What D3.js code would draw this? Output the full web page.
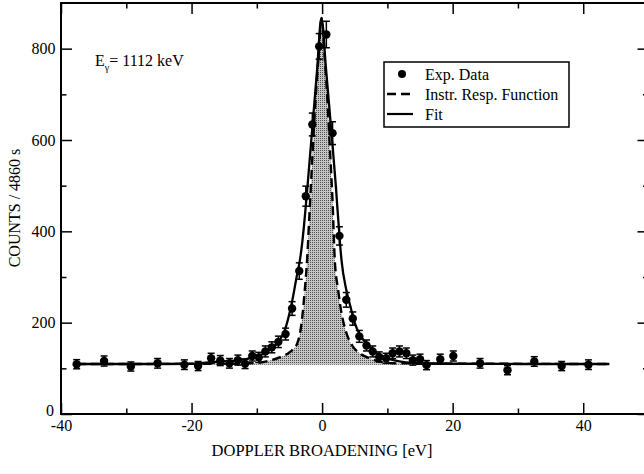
<!DOCTYPE html>
<html>
<head>
<meta charset="utf-8">
<script src="https://cdn.jsdelivr.net/npm/d3@7"></script>
<style>
  html, body { margin: 0; padding: 0; background: #fff; }
  svg { display: block; }
  text { font-family: "Liberation Serif", "Times New Roman", serif; fill: #000; }
</style>
</head>
<body>
<svg id="chart" width="644" height="474"></svg>
<script>
// ---- Data ----
const expX = [-37.6, -33.4, -29.3, -25.2, -21.1, -19.0, -17.0, -15.6, -14.2, -12.9, -11.8, -10.7, -9.7, -8.7, -7.7, -6.7, -5.6, -4.6, -3.5, -2.5, -1.5, -0.45, 0.65, 1.6, 2.65, 3.7, 4.7, 5.7, 6.8, 7.75, 8.75, 9.8, 10.8, 11.85, 12.9, 13.9, 15.0, 16.0, 18.1, 20.1, 24.2, 28.4, 32.5, 36.7, 40.8];
const expY = [109, 116, 104, 111, 108, 105, 122, 117, 111, 118, 110, 127, 124, 137, 146, 158, 175, 231, 313, 477, 634, 805, 831, 615, 390, 250, 209, 170, 150, 137, 125, 122, 133, 137, 133, 118, 120, 107, 120, 127, 111, 96, 115, 105, 108];
const expErr = [10, 11, 10, 10.5, 10.5, 10, 11, 11, 10.5, 11, 10.5, 11, 11, 12, 12, 12.5, 13, 15, 18, 22, 25, 28, 29, 25, 20, 16, 14.5, 13, 12, 12, 11, 11, 11.5, 12, 11.5, 11, 11, 10, 11, 11, 10.5, 10, 10.5, 10, 10.5];

const fitX = [-37.6, -25, -20, -15.7, -13.1, -10.6, -8.5, -6.7, -5.7, -4.7, -3.8, -3.4, -3.0, -2.2, -1.47, -0.8, -0.1, 0.6, 1.5, 2.1, 2.7, 2.97, 3.7, 4.35, 5.0, 6.0, 7.3, 8.8, 10.9, 15, 20, 30, 44];
const fitY = [109.5, 109.5, 110, 115, 117, 124, 136, 158, 184, 239, 308, 337, 381, 505, 632, 748, 867, 755, 605, 500, 381, 337, 272, 235, 199, 169, 147, 129, 118, 111, 110, 109.5, 109.5];

const irfX = [-37.6, -14, -10, -8, -6.2, -4.9, -3.8, -3.15, -2.65, -2.3, -2.0, -1.5, -1.0, -0.5, -0.1, 0.4, 0.8, 1.2, 1.6, 1.94, 2.45, 2.97, 3.73, 4.75, 5.77, 7.3, 8.8, 11, 44];
const irfY = [109.5, 110, 112, 117, 126, 136, 155, 199, 272, 337, 420, 560, 690, 790, 867, 780, 690, 580, 465, 337, 272, 221, 177, 147, 133, 122, 115, 111, 109.5];

const xMajorTicks = [-40, -20, 0, 20, 40];
const xMinorTicks = [-30, -10, 10, 30];
const yMajorTicks = [0, 200, 400, 600, 800];
const yMinorTicks = [100, 300, 500, 700];

const legendLabels = ["Exp. Data", "Instr. Resp. Function", "Fit"];

// ---- Layout ----
const svg = d3.select("#chart");
const L = 61, R = 648.5, T = 3, B = 414;
const x = d3.scaleLinear().domain([-40, 50]).range([L, R]);
const y = d3.scaleLinear().domain([0, 900]).range([B, T]);
const plainFmt = d => String(d);

svg.append("rect").attr("width", 644).attr("height", 474).attr("fill", "#fff");

// stipple pattern for the instrument response fill
const defs = svg.append("defs");
const pat = defs.append("pattern").attr("id", "stip").attr("patternUnits", "userSpaceOnUse")
  .attr("width", 2).attr("height", 2);
pat.append("rect").attr("width", 2).attr("height", 2).attr("fill", "#c6c6c6");
pat.append("rect").attr("width", 1).attr("height", 1).attr("fill", "#4e4e4e");

const irf = irfX.map((v, i) => [v, irfY[i]]);
const fit = fitX.map((v, i) => [v, fitY[i]]);

// filled area under IRF
svg.append("path")
  .attr("d", d3.area().x(d => x(d[0])).y0(y(108)).y1(d => y(d[1])).curve(d3.curveMonotoneX)(irf))
  .attr("fill", "url(#stip)");

// IRF dashed
svg.append("path")
  .attr("d", d3.line().x(d => x(d[0])).y(d => y(d[1])).curve(d3.curveMonotoneX)(irf))
  .attr("fill", "none").attr("stroke", "#000").attr("stroke-width", 2.4)
  .attr("stroke-dasharray", "9,5");

// Fit solid
svg.append("path")
  .attr("d", d3.line().x(d => x(d[0])).y(d => y(d[1])).curve(d3.curveMonotoneX)(fit))
  .attr("fill", "none").attr("stroke", "#000").attr("stroke-width", 2.3);

// Data with error bars
const pts = svg.append("g");
expX.forEach((xv, i) => {
  const cx = x(xv), y1 = y(expY[i] - expErr[i]), y2 = y(expY[i] + expErr[i]);
  pts.append("line").attr("x1", cx).attr("x2", cx).attr("y1", y1).attr("y2", y2)
    .attr("stroke", "#000").attr("stroke-width", 1.5);
  [y1, y2].forEach(yy => pts.append("line").attr("x1", cx - 3.5).attr("x2", cx + 3.5)
    .attr("y1", yy).attr("y2", yy).attr("stroke", "#000").attr("stroke-width", 1.5));
  pts.append("circle").attr("cx", cx).attr("cy", y(expY[i])).attr("r", 4.2).attr("fill", "#000");
});

// ---- Axes ----
function styleAxis(g, labels) {
  g.select(".domain").remove();
  g.selectAll(".tick line").attr("stroke", "#000").attr("stroke-width", 1.5);
  g.selectAll(".tick text").style("font-family", '"Liberation Serif", serif').style("font-size", "16px").attr("fill", "#000");
  if (!labels) g.selectAll(".tick text").remove();
}
svg.append("g").attr("transform", `translate(0,${B})`)
  .call(d3.axisBottom(x).tickValues(xMajorTicks).tickSize(-11).tickPadding(5.5).tickFormat(plainFmt))
  .call(g => styleAxis(g, true));
svg.append("g").attr("transform", `translate(0,${B})`)
  .call(d3.axisBottom(x).tickValues(xMinorTicks).tickSize(-5.5))
  .call(g => styleAxis(g, false));
svg.append("g").attr("transform", `translate(0,${T})`)
  .call(d3.axisTop(x).tickValues(xMajorTicks).tickSize(-11))
  .call(g => styleAxis(g, false));
svg.append("g").attr("transform", `translate(0,${T})`)
  .call(d3.axisTop(x).tickValues(xMinorTicks).tickSize(-5.5))
  .call(g => styleAxis(g, false));
svg.append("g").attr("transform", `translate(${L},0)`)
  .call(d3.axisLeft(y).tickValues(yMajorTicks).tickSize(-11).tickPadding(5.5).tickFormat(plainFmt))
  .call(g => styleAxis(g, true))
  .call(g => g.selectAll(".tick text").filter(d => d === 0).attr("dy", "0.1em").attr("x", -7));
svg.append("g").attr("transform", `translate(${L},0)`)
  .call(d3.axisLeft(y).tickValues(yMinorTicks).tickSize(-5.5))
  .call(g => styleAxis(g, false));
svg.append("g").attr("transform", `translate(${R},0)`)
  .call(d3.axisRight(y).tickValues(yMajorTicks).tickSize(-11))
  .call(g => styleAxis(g, false));
svg.append("g").attr("transform", `translate(${R},0)`)
  .call(d3.axisRight(y).tickValues(yMinorTicks).tickSize(-5.5))
  .call(g => styleAxis(g, false));

// frame
svg.append("rect").attr("x", L).attr("y", T).attr("width", R - L).attr("height", B - T)
  .attr("fill", "none").attr("stroke", "#000").attr("stroke-width", 2);

// axis titles
svg.append("text").attr("x", 322).attr("y", 456).attr("text-anchor", "middle")
  .style("font-size", "16.5px").text("DOPPLER BROADENING [eV]");
svg.append("text").attr("transform", "translate(19.5,208) rotate(-90)").attr("text-anchor", "middle")
  .style("font-size", "16px").text("COUNTS / 4860 s");

// annotation
const ann = svg.append("text").attr("x", 95).attr("y", 66).style("font-size", "16px");
ann.append("tspan").text("E");
ann.append("tspan").attr("dy", 5).style("font-size", "10px").text("γ");
ann.append("tspan").attr("dy", -5).text("= 1112 keV");

// legend
const lg = svg.append("g");
lg.append("rect").attr("x", 384).attr("y", 62).attr("width", 185).attr("height", 65)
  .attr("fill", "#fff").attr("stroke", "#000").attr("stroke-width", 1.5);
const rowY = [74, 94, 114];
lg.append("circle").attr("cx", 402).attr("cy", rowY[0]).attr("r", 4).attr("fill", "#000");
lg.append("line").attr("x1", 387).attr("x2", 413).attr("y1", rowY[1]).attr("y2", rowY[1])
  .attr("stroke", "#000").attr("stroke-width", 2.4).attr("stroke-dasharray", "9,5");
lg.append("line").attr("x1", 387).attr("x2", 413).attr("y1", rowY[2]).attr("y2", rowY[2])
  .attr("stroke", "#000").attr("stroke-width", 2.2);
legendLabels.forEach((t, i) => {
  lg.append("text").attr("x", 425).attr("y", rowY[i]).attr("dy", "0.35em")
    .style("font-size", "16px").text(t);
});
</script>
</body>
</html>
